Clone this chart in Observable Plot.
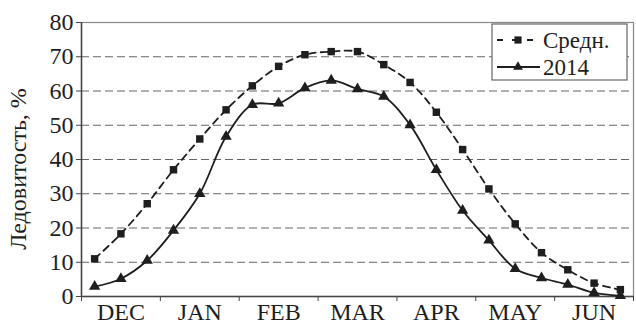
<!DOCTYPE html>
<html>
<head>
<meta charset="utf-8">
<script src="https://cdn.jsdelivr.net/npm/d3@7"></script>
<script src="https://cdn.jsdelivr.net/npm/@observablehq/plot@0.6"></script>
<style>
  html, body { margin: 0; padding: 0; background: #fff; }
  #chart { position: relative; width: 636px; height: 324px; }
  #chart g[aria-label="y-axis tick label"] text { font-size: 24px; }
  #chart g[aria-label="x-axis tick label"] text { font-size: 24px; }
</style>
</head>
<body>
<div id="chart"></div>
<script>
const months = ["DEC", "JAN", "FEB", "MAR", "APR", "MAY", "JUN"];
const meanValues = [11.0, 18.3, 27.1, 37.0, 46.0, 54.5, 61.5, 67.2, 70.6, 71.5, 71.5, 67.7, 62.5, 53.8, 42.9, 31.4, 21.2, 12.8, 7.8, 3.9, 2.0];
const values2014 = [2.9, 5.2, 10.5, 19.3, 30.0, 46.7, 56.0, 56.4, 60.9, 63.1, 60.6, 58.4, 50.1, 37.0, 25.1, 16.4, 8.1, 5.4, 3.5, 1.1, 0.2];
const yTicks = [0, 10, 20, 30, 40, 50, 60, 70, 80];
const gridValues = [10, 20, 30, 40, 50, 60, 70];
const seriesNames = ["Средн.", "2014"];
const yLabel = "Ледовитость, %";

const perMonth = 3;
const meanData = meanValues.map((v, i) => ({x: i + 0.5, y: v}));
const data2014 = values2014.map((v, i) => ({x: i + 0.5, y: v}));
const boundaries = d3.range(0, months.length * perMonth + 1, perMonth);
const centers = months.map((m, k) => k * perMonth + perMonth / 2);

const font = "'Liberation Serif', 'DejaVu Serif', serif";
const ink = "#1e1e1e";

const plot = Plot.plot({
  width: 636,
  height: 324,
  marginLeft: 81,
  marginRight: 3,
  marginTop: 22,
  marginBottom: 28,
  style: {fontFamily: font, fontSize: "20px", color: ink, background: "#fff"},
  x: {domain: [0, months.length * perMonth]},
  y: {domain: [0, 80]},
  marks: [
    Plot.ruleY(gridValues, {stroke: "#666", strokeWidth: 1.1, strokeDasharray: "8,4"}),
    Plot.frame({stroke: "#888", strokeWidth: 1.2}),
    Plot.ruleY([0], {stroke: "#444", strokeWidth: 1.5}),
    Plot.ruleX([0], {stroke: "#444", strokeWidth: 1.5}),
    Plot.axisY({ticks: yTicks, tickSize: 5, tickPadding: 3, label: null, stroke: "#444", fill: ink}),
    Plot.axisX({ticks: boundaries, tickSize: 5, tickFormat: () => "", label: null, stroke: "#444"}),
    Plot.axisX({ticks: centers, tickSize: 0, tickPadding: 6, tickFormat: (d) => months[Math.floor(d / perMonth)], label: null, fill: ink}),
    Plot.line(meanData, {x: "x", y: "y", curve: "catmull-rom", stroke: ink, strokeWidth: 1.8, strokeDasharray: "7,5"}),
    Plot.line(data2014, {x: "x", y: "y", curve: "catmull-rom", stroke: ink, strokeWidth: 1.8}),
    Plot.dot(meanData, {x: "x", y: "y", symbol: "square", r: 4.2, fill: ink, stroke: null}),
    Plot.dot(data2014, {x: "x", y: "y", symbol: "triangle", r: 4.2, fill: ink, stroke: null})
  ]
});

document.getElementById("chart").appendChild(plot);

// Y label and legend
const svg = d3.select(plot);
svg.append("text")
  .attr("transform", "translate(26,169) rotate(-90)")
  .attr("text-anchor", "middle")
  .attr("font-family", font)
  .attr("font-size", 24)
  .attr("fill", ink)
  .text(yLabel);

const lg = svg.append("g").attr("transform", "translate(492,24)");
lg.append("rect").attr("x", 0).attr("y", 0).attr("width", 135).attr("height", 56)
  .attr("fill", "#fff").attr("stroke", "#666").attr("stroke-width", 1.2);
const rows = [
  {name: seriesNames[0], dash: "6,9", symbol: d3.symbolSquare, size: 52},
  {name: seriesNames[1], dash: null, symbol: d3.symbolTriangle, size: 42}
];
rows.forEach((r, i) => {
  const cy = 16 + i * 27;
  lg.append("line").attr("x1", 5).attr("x2", 48).attr("y1", cy).attr("y2", cy)
    .attr("stroke", ink).attr("stroke-width", 1.8).attr("stroke-dasharray", r.dash);
  lg.append("path").attr("d", d3.symbol(r.symbol, r.size)()).attr("transform", `translate(26,${cy})`)
    .attr("fill", ink);
  lg.append("text").attr("x", 51).attr("y", cy).attr("dy", "0.35em")
    .attr("text-anchor", "start")
    .attr("font-family", font).attr("font-size", 23).attr("fill", ink).text(r.name);
});
</script>
</body>
</html>
